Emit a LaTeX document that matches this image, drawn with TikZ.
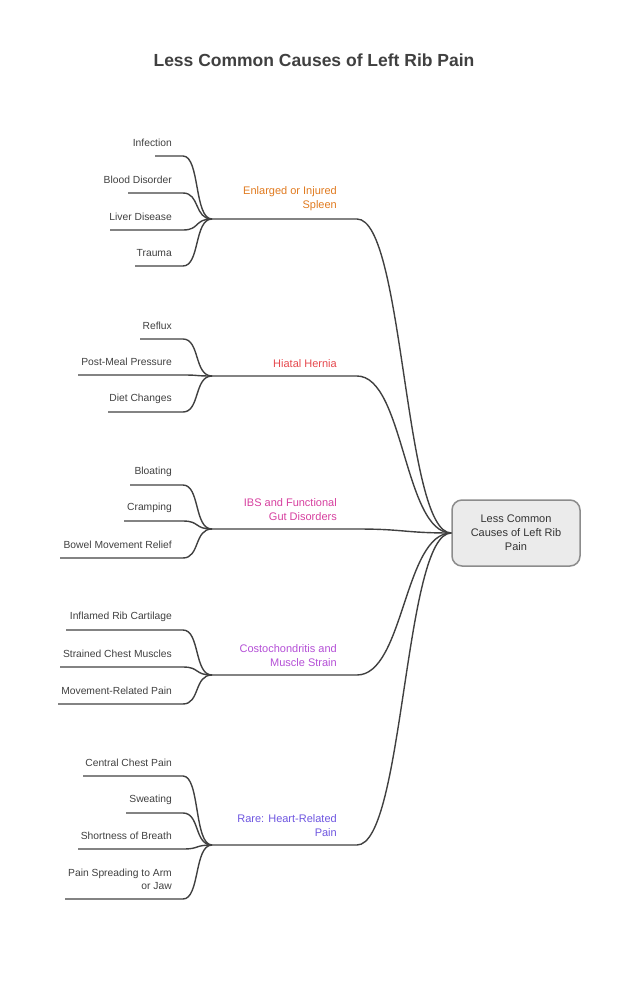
\documentclass[tikz,border=0pt]{standalone}
\usepackage{fontspec}
\setmainfont{Liberation Sans}
\begin{document}
\begin{tikzpicture}[x=1pt,y=-1pt,
  leaf/.style={anchor=east,inner sep=0pt,font=\fontsize{10.3}{13}\selectfont,text=black!75,align=right},
  cat/.style={inner sep=0pt,font=\fontsize{11}{14}\selectfont,align=right},
  ln/.style={line width=1.4pt,draw=black!75}]
\definecolor{cOr}{HTML}{E07A1F}
\definecolor{cRe}{HTML}{E5484D}
\definecolor{cPk}{HTML}{D6409F}
\definecolor{cPu}{HTML}{B44FD6}
\definecolor{cBl}{HTML}{6E56E0}
\useasboundingbox (0,0) rectangle (629,983);
\node[font=\bfseries\fontsize{17.5}{20}\selectfont,text=black!75] (title) at (314,60) {Less Common Causes of Left Rib Pain};
\node[draw=black!45,line width=1.5pt,fill=black!8,rounded corners=10pt,minimum width=128,minimum height=66,align=center,font=\fontsize{11}{14}\selectfont,text=black!80] (root) at (516,533) {Less Common\\Causes of Left Rib\\Pain};
\foreach \n/\y/\t/\c in {a/219/{Enlarged or Injured\\Spleen}/cOr, b/376/{Hiatal Hernia}/cRe, c/529/{IBS and Functional\\Gut Disorders}/cPk, d/675/{Costochondritis and\\Muscle Strain}/cPu, e/845/{Rare: Heart-Related\\Pain}/cBl}{
  \coordinate (\n s) at (212,\y);
  \coordinate (\n e) at (357,\y);
  \node[cat,text=\c,anchor=south east] (\n t) at (337,\y-8) {\t};
  \draw[ln] (\n s) -- (\n e) .. controls (404,\y) and (404,533) .. (root.west);
}
\foreach \n/\c/\cy/\y/\x/\t in {
 a1/a/219/143/155/Infection, a2/a/219/180/128/Blood Disorder, a3/a/219/217/110/Liver Disease, a4/a/219/253/135/Trauma,
 b1/b/376/326/140/Reflux, b2/b/376/362/78/Post-Meal Pressure, b3/b/376/399/108/Diet Changes,
 c1/c/529/472/130/Bloating, c2/c/529/508/124/Cramping, c3/c/529/545/60/Bowel Movement Relief,
 d1/d/675/617/66/Inflamed Rib Cartilage, d2/d/675/654/60/Strained Chest Muscles, d3/d/675/691/58/Movement-Related Pain,
 e1/e/845/763/83/Central Chest Pain, e2/e/845/800/126/Sweating, e3/e/845/836/78/Shortness of Breath}{
  \node[leaf] (\n) at (172,\y) {\t};
  \coordinate (\n s) at (\x,\y+13);
  \coordinate (\n e) at (183,\y+13);
  \draw[ln] (\n s) -- (\n e) .. controls (200,\y+13) and (194,\cy) .. (\c s);
}
\node[leaf] (e4) at (172,879.5) {Pain Spreading to Arm\\or Jaw};
\coordinate (e4s) at (65,899);
\coordinate (e4e) at (183,899);
\draw[ln] (e4s) -- (e4e) .. controls (200,899) and (194,845) .. (es);
\end{tikzpicture}
\end{document}
